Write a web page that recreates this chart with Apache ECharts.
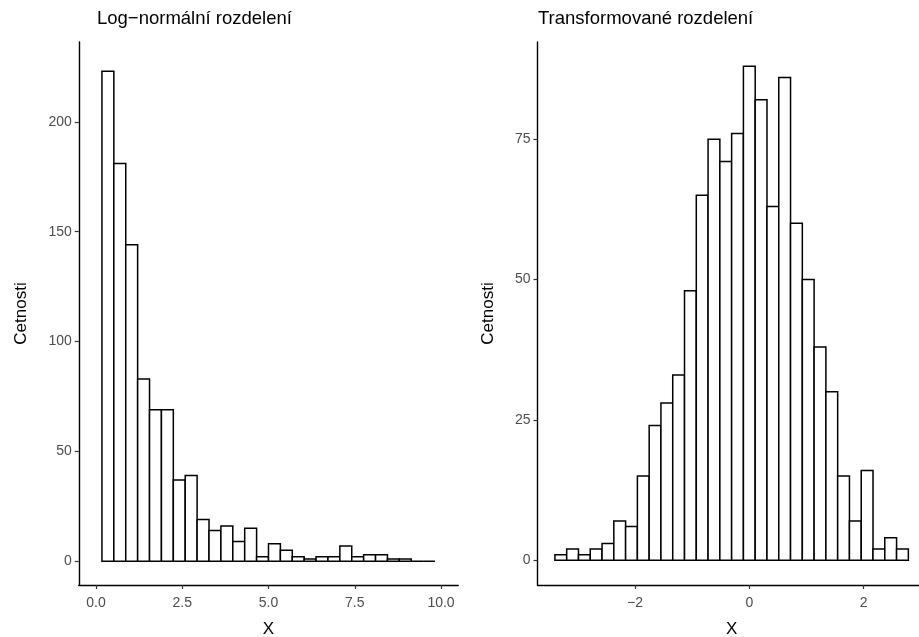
<!DOCTYPE html>
<html>
<head>
<meta charset="utf-8">
<script src="https://cdn.jsdelivr.net/npm/echarts@6/dist/echarts.min.js"></script>
<style>
html,body{margin:0;padding:0;background:#fff;}
#chart{width:919px;height:637px;}
</style>
</head>
<body>
<div id="chart"></div>
<script>
// ---- data ----
const leftTitle = 'Log−normální rozdelení';
const rightTitle = 'Transformované rozdelení';
const yName = 'Cetnosti';
const xName = 'X';

const leftBinStart = 0.1724;
const leftBinWidth = 0.3448;
const leftCounts = [223,181,144,83,69,69,37,39,19,14,16,9,15,2,8,5,2,1,2,2,7,2,3,3,1,1,0,0];
const leftXTicks = [0, 2.5, 5, 7.5, 10];
const leftXTickLabels = ['0.0','2.5','5.0','7.5','10.0'];
const leftYTicks = [0, 50, 100, 150, 200];

const rightBinStart = -3.404;
const rightBinWidth = 0.2063;
const rightCounts = [1,2,1,2,3,7,6,15,24,28,33,48,65,75,71,76,88,82,63,86,60,50,38,30,15,7,16,2,4,2];
const rightXTicks = [-2, 0, 2];
const rightXTickLabels = ['−2','0','2'];
const rightYTicks = [0, 25, 50, 75];

// ---- build ----
function bins(start, width, counts){
  return counts.map((c,i)=>[start + i*width, start + (i+1)*width, c]);
}
const FONT = '"Liberation Sans", Arial, sans-serif';

function renderHist(params, api){
  const x0 = api.value(0), x1 = api.value(1), c = api.value(2);
  const p0 = api.coord([x0, c]);
  const p1 = api.coord([x1, 0]);
  return {
    type:'rect',
    shape:{x:p0[0], y:p0[1], width:p1[0]-p0[0], height:p1[1]-p0[1]},
    style:{fill:'#ffffff', stroke:'#000000', lineWidth:1.5}
  };
}

function xAxisCfg(idx, min, max, ticks, labels){
  return {
    type:'value', gridIndex:idx, min:min, max:max,
    name:xName, nameLocation:'middle', nameGap:36,
    nameTextStyle:{fontSize:17, color:'#000', fontFamily:FONT},
    splitLine:{show:false},
    axisLine:{show:true, onZero:false, lineStyle:{color:'#000', width:1.4}},
    axisTick:{show:true, length:4, customValues:ticks, lineStyle:{color:'#333', width:1.2}},
    axisLabel:{show:true, customValues:ticks, margin:11, fontSize:14, color:'#4d4d4d', fontFamily:FONT,
      formatter:function(v){ const i = ticks.indexOf(v); return i>=0 ? labels[i] : ''; }}
  };
}
function yAxisCfg(idx, min, max, ticks, gap){
  return {
    type:'value', gridIndex:idx, min:min, max:max,
    name:yName, nameLocation:'middle', nameGap:gap,
    nameTextStyle:{fontSize:17, color:'#000', fontFamily:FONT},
    splitLine:{show:false},
    axisLine:{show:true, onZero:false, lineStyle:{color:'#000', width:1.4}},
    axisTick:{show:true, length:4, customValues:ticks, lineStyle:{color:'#333', width:1.2}},
    axisLabel:{show:true, customValues:ticks, margin:7, fontSize:14, color:'#4d4d4d', fontFamily:FONT}
  };
}

const chart = echarts.init(document.getElementById('chart'), null, {renderer:'canvas'});
chart.setOption({
  backgroundColor:'#ffffff',
  animation:false,
  title:[
    {text:leftTitle, left:97, top:9, padding:0, textStyle:{fontSize:18.5, fontWeight:'normal', color:'#000', fontFamily:FONT}},
    {text:rightTitle, left:538, top:9, padding:0, textStyle:{fontSize:18.5, fontWeight:'normal', color:'#000', fontFamily:FONT}}
  ],
  grid:[
    {left:78.75, top:42, width:379.5, height:543, containLabel:false, outerBoundsMode:'none'},
    {left:537.5, top:42, width:388.5, height:543, containLabel:false, outerBoundsMode:'none'}
  ],
  xAxis:[
    xAxisCfg(0, -0.5, 10.5, leftXTicks, leftXTickLabels),
    xAxisCfg(1, -3.709, 3.094, rightXTicks, rightXTickLabels)
  ],
  yAxis:[
    yAxisCfg(0, -10.8, 236.3, leftYTicks, 49),
    yAxisCfg(1, -4.4, 92.3, rightYTicks, 41)
  ],
  series:[
    {type:'custom', xAxisIndex:0, yAxisIndex:0, renderItem:renderHist,
     encode:{x:[0,1], y:2}, data:bins(leftBinStart, leftBinWidth, leftCounts)},
    {type:'custom', xAxisIndex:1, yAxisIndex:1, renderItem:renderHist,
     encode:{x:[0,1], y:2}, data:bins(rightBinStart, rightBinWidth, rightCounts)}
  ]
});
</script>
</body>
</html>
